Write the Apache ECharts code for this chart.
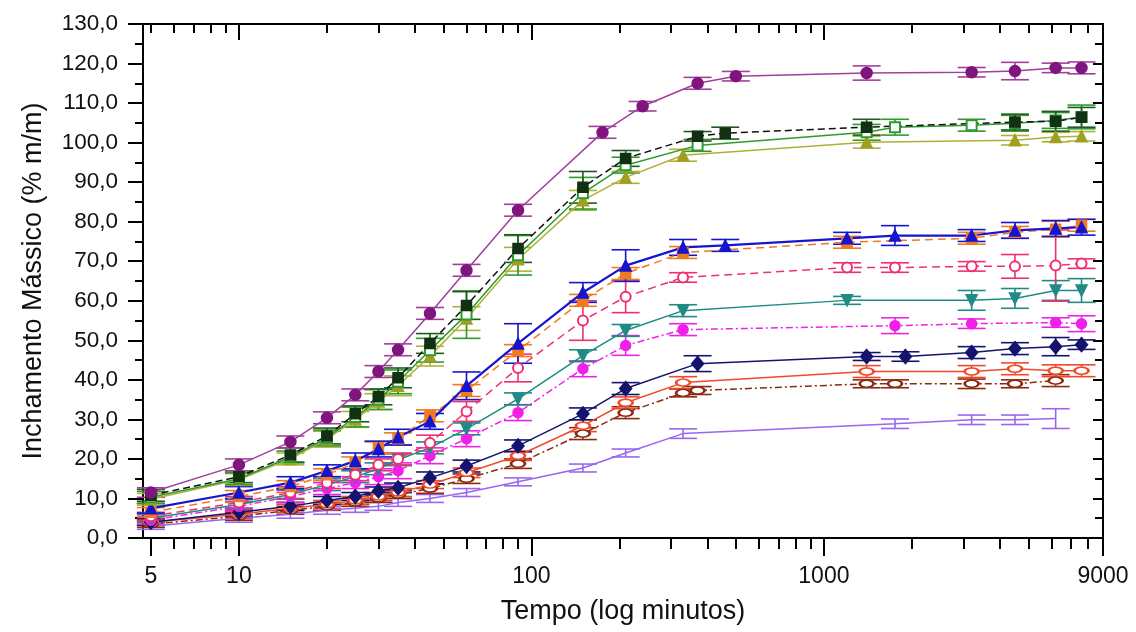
<!DOCTYPE html>
<html><head><meta charset="utf-8">
<script src="https://cdn.jsdelivr.net/npm/echarts@6/dist/echarts.min.js"></script>
<style>html,body{margin:0;padding:0;background:#fff}#c{width:1136px;height:632px}</style>
</head><body><div id="c"></div>
<script>
const N = null;
// time points (minutes)
const tempo = [5,10,15,20,25,30,35,45,60,90,150,175,210,240,330,370,460,500,1200,1400,1750,1900,3200,4500,6200,7600];
const xTickLabels = [5,10,100,1000,9000];
const xMinorTicks = [6,7,8,9,20,30,40,50,60,70,80,90,200,300,400,500,600,700,800,900,2000,3000,4000,5000,6000,7000,8000];

const roxo     = [11.5,18.5,24.3,30.4,36.2,42.1,47.6,56.8,67.7,82.9,N,102.6,N,109.2,N,115.0,N,116.8,N,117.6,N,N,117.8,118.1,118.9,118.9];
const roxoErr  = [1.2,1.5,1.5,1.5,1.5,1.5,1.5,1.5,1.5,1.5,N,1.5,N,1.2,N,1.5,N,1.2,N,1.8,N,N,1.2,2.2,1.2,1.5];
const preto    = [10.8,15.5,21.0,25.8,31.4,35.7,40.5,49.2,58.8,73.2,88.7,N,96.0,N,N,101.6,102.4,N,N,103.9,N,N,N,105.2,105.4,106.4];
const pretoErr = [1.5,1.5,1.8,2,2,2,2.5,2.5,3.5,3.5,4,N,2,N,N,1.2,1.5,N,N,2,N,N,N,2,2.5,2.5];
const verde    = [10.3,15.0,20.5,25.3,30.6,35.0,39.5,47.5,56.5,71.5,87.2,N,94.3,N,N,99.3,N,N,N,102.6,103.9,N,104.4,104.9,105.6,106.5];
const verdeErr = [1.5,1.5,1.5,2,2.5,2.5,3,3,6,5,4,N,2,N,N,1.5,N,N,N,2,2,N,1.5,2,2,3];
const oliva    = [9.8,14.8,20.0,25.0,30.0,34.5,38.5,46.0,55.5,70.5,85.4,N,91.2,N,96.8,N,N,N,N,100.1,N,N,N,100.6,101.4,101.6];
const olivaErr = [1.5,1.5,1.5,2,2,2,2.5,2.5,3,3,2.5,N,1.5,N,1.5,N,N,N,N,1.5,N,N,N,1.2,1.2,1.2];
const azul     = [7.5,11.5,14.0,17.0,19.5,22.5,25.5,29.5,38.5,49.2,62.1,N,68.9,N,73.5,N,74.0,N,75.8,N,76.5,N,76.5,77.8,78.3,78.6];
const azulErr  = [1.2,1.5,1.5,1.5,2,2,2,2,3.5,5,2.5,N,4,N,2,N,1.5,N,1.5,N,2.5,N,1.5,2,2,2];
const laranja  = [6.5,10.5,13.0,16.0,19.0,22.8,25.1,30.9,37.3,47.4,60.1,N,66.9,N,72.2,N,N,N,74.8,N,N,N,75.8,77.3,78.1,79.1];
const laranjaErr=[1.2,1.5,1.5,1.5,1.5,1.5,1.5,1.5,1.5,1.5,1.5,N,1.5,N,1.5,N,N,N,1.5,N,N,N,1.5,1.5,2,1.5];
const rosa     = [5.5,9.0,11.5,14.0,16.0,18.5,20.0,24.0,32.0,43.0,55.0,N,61.0,N,65.9,N,N,N,68.4,N,68.4,N,68.7,68.7,68.9,69.4];
const rosaErr  = [1,1.5,1.5,1.5,1.5,1.5,1.5,2,2.5,3.5,5,N,4,N,1.2,N,N,N,1.2,N,1.2,N,1.2,3,9,1.2];
const ciano    = [5.0,8.5,11.0,13.5,15.5,17.5,19.8,22.8,27.6,35.2,46.1,N,52.5,N,57.5,N,N,N,60.1,N,N,N,60.1,60.6,62.6,62.6];
const cianoErr = [1,1.2,1.2,1.5,1.5,1.5,1.5,1.5,1.5,1.5,1.5,N,1.5,N,1.5,N,N,N,1,N,N,N,2.5,2.5,2.5,3];
const magenta  = [4.5,8.0,10.5,12.5,14.0,15.5,17.0,20.8,25.1,31.7,42.8,N,48.7,N,52.7,N,N,N,N,N,53.7,N,54.2,N,54.5,54.2];
const magentaErr=[1,1.2,1.5,1.5,1.5,2,2,2,2,2,2,N,2.5,N,1.5,N,N,N,N,N,2,N,1.2,N,1.2,2];
const marinho  = [4.0,6.5,8.0,9.5,10.5,11.9,12.7,15.2,18.2,23.3,31.4,N,37.8,N,N,44.1,N,N,N,45.9,N,45.9,46.9,47.9,48.4,48.9];
const marinhoErr=[0.8,1,1,1,1,1,1.2,1.5,1.5,1.5,1.5,N,1.5,N,N,2,N,N,N,1,N,1.2,1.5,1.5,2.3,1.2];
const vermelho = [4.0,6.0,7.5,8.5,9.5,10.5,11.5,13.5,16.5,20.8,28.4,N,34.2,N,39.3,N,N,N,N,42.1,N,N,42.1,42.8,42.3,42.3];
const vermelhoErr=[0.8,1,1,1,1,1,1,1,1.2,1.2,1.5,N,1.5,N,1.5,N,N,N,N,1.5,N,N,1.5,1.5,1.5,1.5];
const marrom   = [3.5,5.5,7.0,8.0,9.0,10.0,11.0,12.5,15.0,18.8,26.4,N,31.7,N,36.7,37.3,N,N,N,39.0,39.0,N,39.0,39.0,39.8,N];
const marromErr= [0.8,1,1,1,1,1,1,1.2,1.2,1.2,1.5,N,1.5,N,1,1,N,N,N,1,1,N,1.2,1,1.5,N];
const violeta  = [3.0,5.0,6.0,7.0,7.5,8.0,9.0,10.0,11.5,14.2,17.7,N,21.5,N,26.4,N,N,N,N,N,28.9,N,29.9,29.9,30.2,N];
const violetaErr=[0.8,1,1,1,1,1,1,1,1,1,1,N,1,N,1.2,N,N,N,N,N,1.2,N,1.2,1.2,2.5,N];

const seriesDefs = [
  {v: violeta,  e: violetaErr,  line:'#9A66F0', mk:'#9A66F0', sym:'none', type:'solid'},
  {v: marrom,   e: marromErr,   line:'#8A2A10', mk:'#8A2A10', sym:'emptyCircle', size:[14,7], type:[7,3,2,3]},
  {v: vermelho, e: vermelhoErr, line:'#F04A2A', mk:'#F04A2A', sym:'emptyCircle', size:[14,7], type:'solid'},
  {v: marinho,  e: marinhoErr,  line:'#14146E', mk:'#14146E', sym:'diamond', size:[12,14], type:'solid'},
  {v: magenta,  e: magentaErr,  line:'#F020E8', mk:'#F020E8', sym:'circle', size:10, type:[7,3,2,3]},
  {v: ciano,    e: cianoErr,    line:'#1E8C84', mk:'#1E8C84', sym:'triangle', rot:180, size:11, type:'solid'},
  {v: rosa,     e: rosaErr,     line:'#F0306E', mk:'#F0306E', sym:'emptyCircle', size:10, type:[8,5]},
  {v: laranja,  e: laranjaErr,  line:'#F07A20', mk:'#F07A20', sym:'rect', size:10, type:[8,5]},
  {v: azul,     e: azulErr,     line:'#1515D0', mk:'#1515D0', sym:'triangle', size:11, type:'solid', w:2.2},
  {v: oliva,    e: olivaErr,    line:'#B0B038', mk:'#A0A020', sym:'triangle', size:11, type:'solid'},
  {v: verde,    e: verdeErr,    line:'#2E9A2E', mk:'#2E9A2E', sym:'emptyRect', size:10, type:'solid'},
  {v: preto,    e: pretoErr,    line:'#111111', mk:'#123012', sym:'rect', size:10, type:[7,4], ecol:'#1E5A1E'},
  {v: roxo,     e: roxoErr,     line:'#A0409A', mk:'#80157F', sym:'circle', size:11, type:'solid'}
];

const series = [];
seriesDefs.forEach(d => {
  const pts = [], errs = [];
  tempo.forEach((t, i) => {
    if (d.v[i] !== null) {
      pts.push([t, d.v[i]]);
      if (d.e[i] !== null) errs.push([t, d.v[i] - d.e[i], d.v[i] + d.e[i]]);
    }
  });
  const ec = d.ecol || d.line;
  series.push({
    type: 'custom', xAxisIndex: 0, yAxisIndex: 0, data: errs, silent: true,
    encode: {x: 0, y: [1, 2]}, z: 2,
    renderItem: (params, api) => {
      const x = api.value(0);
      const a = api.coord([x, api.value(1)]);
      const b = api.coord([x, api.value(2)]);
      const w = 14;
      const st = {stroke: ec, lineWidth: 1.6, fill: null};
      return {type: 'group', children: [
        {type: 'line', shape: {x1: a[0], y1: a[1], x2: b[0], y2: b[1]}, style: st},
        {type: 'line', shape: {x1: a[0]-w, y1: a[1], x2: a[0]+w, y2: a[1]}, style: st},
        {type: 'line', shape: {x1: b[0]-w, y1: b[1], x2: b[0]+w, y2: b[1]}, style: st}
      ]};
    }
  });
  series.push({
    type: 'line', xAxisIndex: 0, yAxisIndex: 0, data: pts, z: 3,
    symbol: d.sym, symbolSize: d.size || 10, symbolRotate: d.rot || 0,
    showSymbol: d.sym !== 'none',
    lineStyle: {color: d.line, width: d.w || 1.5, type: d.type},
    itemStyle: {color: d.mk, borderColor: d.mk, borderWidth: 1.5},
    emphasis: {disabled: true}
  });
});

const axisLine = {show: true, lineStyle: {color: '#000', width: 2}};
const fontFam = 'Liberation Sans, Arial, sans-serif';
const xBase = {type: 'log', logBase: 10, min: 4.7, max: 9000, gridIndex: 0, splitLine: {show: false}, minorTick: {show: false}};

const chart = echarts.init(document.getElementById('c'), null, {renderer: 'canvas'});
chart.setOption({
  animation: false,
  backgroundColor: '#fff',
  grid: {left: 143, right: 33, top: 24, bottom: 94, containLabel: false},
  xAxis: [
    Object.assign({}, xBase, {position: 'bottom', axisLine,
      axisTick: {show: true, customValues: xTickLabels, length: 18, lineStyle: {color: '#000', width: 2}},
      axisLabel: {show: true, customValues: xTickLabels, margin: 27, fontSize: 23, color: '#111', fontFamily: fontFam, formatter: v => String(Math.round(v))},
      name: 'Tempo (log minutos)', nameLocation: 'middle', nameGap: 60,
      nameTextStyle: {fontSize: 27, color: '#111', fontFamily: fontFam}}),
    Object.assign({}, xBase, {position: 'bottom', axisLine: {show: false},
      axisTick: {show: true, customValues: xMinorTicks, length: 11, lineStyle: {color: '#000', width: 2}},
      axisLabel: {show: false}}),
    Object.assign({}, xBase, {position: 'top', axisLine,
      axisTick: {show: true, inside: true, customValues: [10,100,1000], length: 16, lineStyle: {color: '#000', width: 2}},
      axisLabel: {show: false}}),
    Object.assign({}, xBase, {position: 'top', axisLine: {show: false},
      axisTick: {show: true, inside: true, customValues: [5].concat(xMinorTicks), length: 9, lineStyle: {color: '#000', width: 2}},
      axisLabel: {show: false}})
  ],
  yAxis: [
    {type: 'value', position: 'left', min: 0, max: 130, interval: 10, axisLine,
      splitLine: {show: false},
      axisTick: {show: true, length: 15, lineStyle: {color: '#000', width: 2}},
      minorTick: {show: true, splitNumber: 2, length: 8, lineStyle: {color: '#000', width: 2}},
      axisLabel: {margin: 25, fontSize: 22.5, color: '#111', fontFamily: fontFam, formatter: v => v.toFixed(1).replace('.', ',')},
      name: 'Inchamento Mássico (% m/m)', nameLocation: 'middle', nameGap: 96,
      nameTextStyle: {fontSize: 27, color: '#111', fontFamily: fontFam}},
    {type: 'value', position: 'right', min: 0, max: 130, interval: 10, axisLine,
      splitLine: {show: false},
      axisTick: {show: true, inside: true, length: 10, lineStyle: {color: '#000', width: 2}},
      minorTick: {show: true, splitNumber: 2, length: 8, lineStyle: {color: '#000', width: 2}},
      axisLabel: {show: false}}
  ],
  series
});
</script>
</body></html>
